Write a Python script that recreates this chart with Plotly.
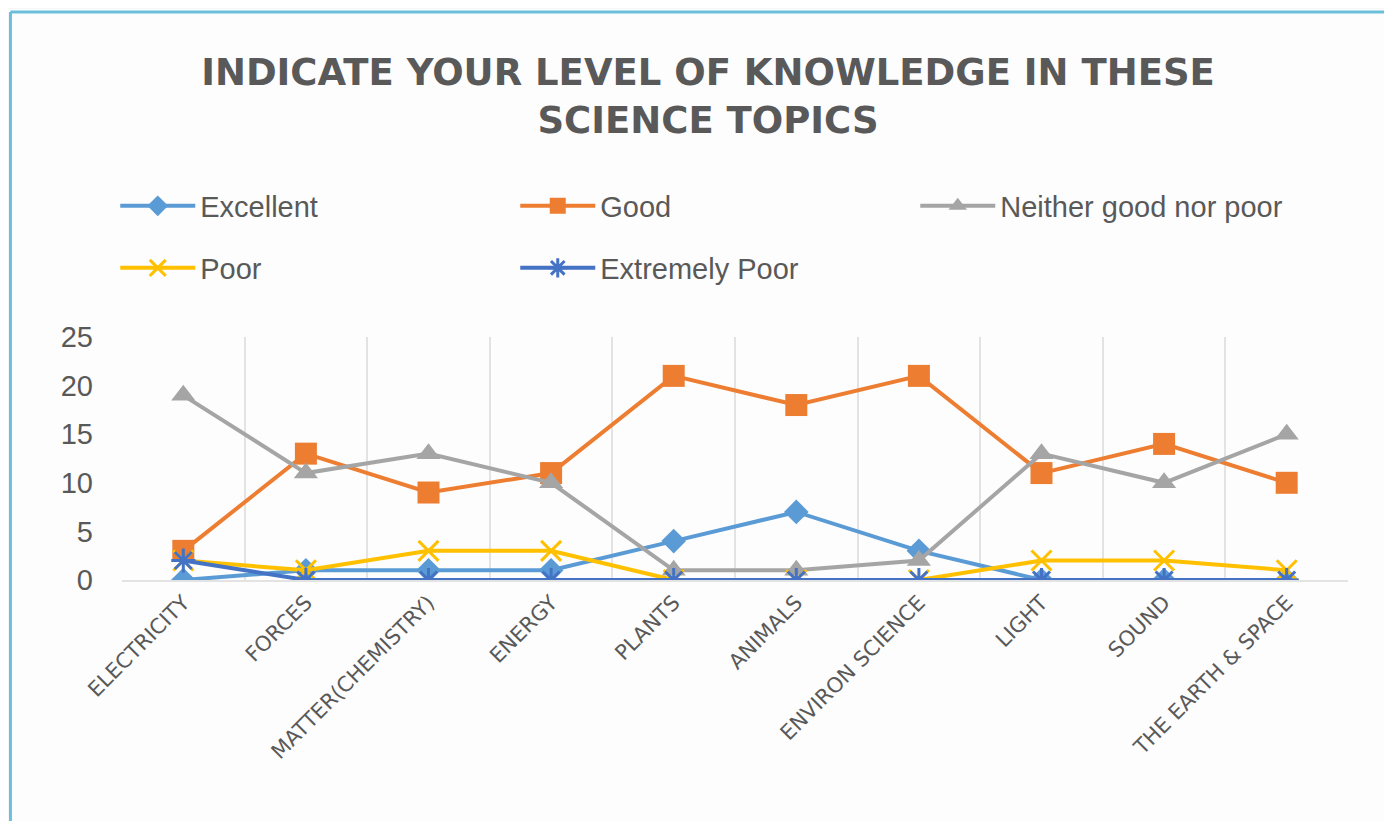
"""
Science topics knowledge survey - line chart
"""
import plotly.graph_objects as go

topics = [
    "ELECTRICITY", "FORCES", "MATTER(CHEMISTRY)", "ENERGY", "PLANTS",
    "ANIMALS", "ENVIRON SCIENCE", "LIGHT", "SOUND", "THE EARTH & SPACE",
]
excellent = [0, 1, 1, 1, 4, 7, 3, 0, 0, 0]
good = [3, 13, 9, 11, 21, 18, 21, 11, 14, 10]
neither = [19, 11, 13, 10, 1, 1, 2, 13, 10, 15]
poor = [2, 1, 3, 3, 0, 0, 0, 2, 2, 1]
extremely_poor = [2, 0, 0, 0, 0, 0, 0, 0, 0, 0]
y_ticks = [0, 5, 10, 15, 20, 25]

TEXT_GRAY = "#595959"

series = [
    ("Excellent", excellent, "#5B9BD5", dict(symbol="diamond", size=19), "legend"),
    ("Good", good, "#ED7D31", dict(symbol="square", size=22), "legend"),
    ("Neither good nor poor", neither, "#A5A5A5", dict(symbol="triangle-up", size=21), "legend"),
    ("Poor", poor, "#FFC000", dict(symbol="x-thin-open", size=20, line=dict(width=3, color="#FFC000")), "legend2"),
    ("Extremely Poor", extremely_poor, "#4472C4", dict(symbol="asterisk-open", size=20, line=dict(width=3, color="#4472C4")), "legend2"),
]

fig = go.Figure()

for name, values, color, marker, legend in series:
    fig.add_trace(go.Scatter(
        x=topics,
        y=values,
        mode='lines+markers',
        name=name,
        line=dict(color=color, width=4),
        marker=dict(color=color, **marker),
        legend=legend,
    ))

legend_style = dict(
    orientation="h",
    xanchor="left",
    yanchor="middle",
    font=dict(family="Liberation Sans, sans-serif", size=29, color=TEXT_GRAY),
    entrywidth=310,
    entrywidthmode="pixels",
    itemwidth=75,
    bgcolor="rgba(0,0,0,0)",
)

fig.update_layout(
    width=1392,
    height=821,
    title=dict(
        text="INDICATE YOUR LEVEL OF KNOWLEDGE IN THESE<br>SCIENCE TOPICS",
        x=0.478,
        xref="paper",
        xanchor="center",
        yref="container",
        y=0.906,
        yanchor="top",
        font=dict(family="DejaVu Sans", size=37, color=TEXT_GRAY, weight="bold"),
    ),
    paper_bgcolor="#FDFDFD",
    plot_bgcolor="rgba(0,0,0,0)",
    margin=dict(l=114, r=52, t=329, b=249),
    legend=dict(x=-0.0055, y=1.539, **legend_style),
    legend2=dict(x=-0.0055, y=1.284, **legend_style),
    xaxis=dict(
        type="category",
        tickson="boundaries",
        showgrid=True,
        gridcolor="#E3E3E3",
        gridwidth=2,
        showline=True,
        linecolor="#E3E3E3",
        linewidth=2,
        ticks="",
        tickangle=-45,
        tickfont=dict(family="DejaVu Sans", size=21, color=TEXT_GRAY),
        range=[-0.5, 9.5],
    ),
    yaxis=dict(
        range=[0, 25],
        tickvals=y_ticks,
        showgrid=False,
        zeroline=False,
        showline=False,
        ticklabelstandoff=28,
        tickfont=dict(family="Liberation Sans, sans-serif", size=29, color=TEXT_GRAY),
    ),
    shapes=[
        # outer slide band and frame
        dict(type="rect", xref="paper", yref="paper", x0=-0.2, x1=1.1, y0=2.35, y1=2.5,
             fillcolor="#F4F6F7", line=dict(width=0), layer="below"),
        dict(type="line", xref="paper", yref="paper", x0=-0.091, x1=1.1, y0=2.337, y1=2.337,
             line=dict(color="#6BBFDA", width=3)),
        dict(type="line", xref="paper", yref="paper", x0=-0.091, x1=-0.091, y0=2.337, y1=-1.2,
             line=dict(color="#6BBFDA", width=3)),
    ],
)

fig.write_html("out.html")
